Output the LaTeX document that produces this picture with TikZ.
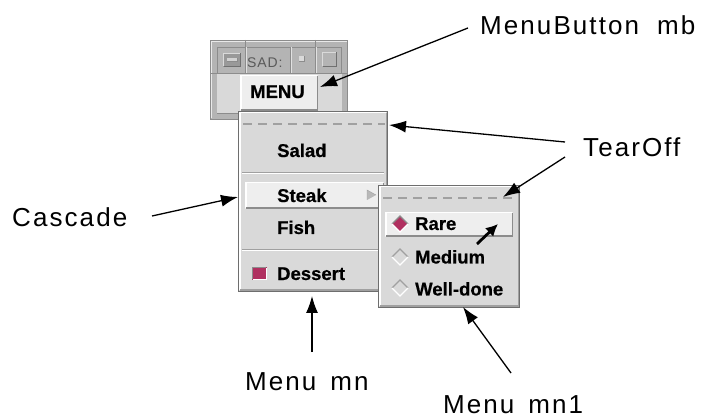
\documentclass[tikz,border=0pt]{standalone}
\usepackage{fontspec}
\setmainfont{Liberation Sans}
\newfontfamily\lblfont[LetterSpace=8]{Liberation Sans}
\newfontfamily\ttlfont[LetterSpace=6]{Liberation Sans}
\newfontfamily\itemfont[FakeBold=0.5]{Liberation Sans Bold}
\usetikzlibrary{arrows.meta}
\definecolor{tkbg}{HTML}{D9D9D9}
\definecolor{tklight}{HTML}{EEEEEE}
\definecolor{tkdark}{HTML}{8C8C8C}
\definecolor{tkedge}{HTML}{6E6E6E}
\definecolor{tkframe}{HTML}{B4B4B4}
\definecolor{tksel}{HTML}{B03060}
\definecolor{tkdash}{HTML}{A0A0A0}
\newcommand\tkraised[5]{%
  \fill[#5] (#1,#2) rectangle (#3,#4);
  \draw[white,line width=1.5pt] ({#1+0.75},{#4-0.75}) -- ({#1+0.75},{#2+0.75}) -- ({#3-0.75},{#2+0.75});
  \draw[tkdark,line width=1.5pt] ({#1+0.75},{#4-0.75}) -- ({#3-0.75},{#4-0.75}) -- ({#3-0.75},{#2+0.75});
}
\newcommand\tkmenubox[4]{%
  \fill[tkbg] (#1,#2) rectangle (#3,#4);
  \draw[tkedge] ({#1+0.5},{#2+0.5}) rectangle ({#3-0.5},{#4-0.5});
  \draw[white,line width=1.5pt] ({#1+1.75},{#4-1.75}) -- ({#1+1.75},{#2+1.75}) -- ({#3-1.75},{#2+1.75});
  \draw[tkdash,line width=1.5pt] ({#1+1.75},{#4-1.75}) -- ({#3-1.75},{#4-1.75}) -- ({#3-1.75},{#2+1.75});
}
\begin{document}
\begin{tikzpicture}[x=1pt,y=-1pt,
  lbl/.style={font=\lblfont\fontsize{26}{30}\selectfont, anchor=base west, inner sep=0pt},
  item/.style={font=\itemfont\fontsize{18.5}{22}\selectfont, anchor=base west, inner sep=0pt},
  conn/.style={line width=1.3pt, -{Latex[length=17pt,width=12pt]}},
  tear/.style={tkdash, line width=1.3pt, dash pattern=on 9pt off 6pt},
  groove/.style={tkdash, line width=1pt},
]
\useasboundingbox (0,0) rectangle (716,417);
\fill[white] (0,0) rectangle (716,417);

% ---------- top-level window of the menubutton ----------
\fill[tkframe] (210,40) rectangle (348,120);
\draw[tkdark] (210.5,40.5) rectangle (347.5,119.5);
\draw[white!70!tkframe] (211.5,118.5) -- (211.5,41.5) -- (346.5,41.5);
% frame ticks
\foreach \xx in {245,315}{
  \draw[tkdark] (\xx,40) -- (\xx,47);
  \draw[tkdark] (\xx,113) -- (\xx,120);}
\draw[tkdark] (210,73.5) -- (217,73.5);
\draw[tkdark] (342,73.5) -- (348,73.5);
% title bar
\draw[tkdark] (217.5,47.5) rectangle (341.5,73.5);
\foreach \xx in {245,290,315}{
  \draw[tkdark] (\xx,47.5) -- (\xx,73.5);
  \draw[white!60!tkframe] (\xx+1,47.5) -- (\xx+1,73.5);}
% iconify button
\fill[tkframe!85!black] (223,53) rectangle (241,67);
\draw[white!50!tkframe] (223.5,66.5) -- (223.5,53.5) -- (240.5,53.5);
\draw[tkdark!80!black] (223.5,66.5) -- (240.5,66.5) -- (240.5,53.5);
\fill[white!40!tkframe] (227,58) rectangle (237,61.5);
\draw[tkdark] (227,61.5) -- (237,61.5) -- (237,58);
\node[font=\ttlfont\fontsize{14}{16}\selectfont, text=black!65, anchor=base west, inner sep=0pt] (ttl) at (247,67.5) {SAD:};
% small buttons
\fill[white!50!tkframe] (299,56) rectangle (304,61);
\draw[tkdark] (299,61) -- (304,61) -- (304,56);
\draw[white!50!tkframe,line width=1.2pt] (322.5,66.5) -- (322.5,52.5) -- (336.5,52.5);
\draw[tkdark!80!black,line width=1.2pt] (322.5,66.5) -- (336.5,66.5) -- (336.5,52.5);
% body
\fill[tkbg] (217,74) rectangle (342,113);
\draw[tkdark] (217,113.5) -- (342,113.5);
\tkraised{240}{75}{318}{111}{tklight}
\node[item] (mb) at (250,98) {MENU};

% ---------- menu mn ----------
\tkmenubox{238}{111}{388}{292}
\draw[tear] (243,124) -- (385,124);
\node[item] (salad) at (277,157) {Salad};
\draw[groove] (242,172.5) -- (384,172.5);
\draw[white,line width=1pt] (242,174) -- (384,174);
\tkraised{245}{182}{384}{209}{tklight}
\node[item] (steak) at (277,202) {Steak};
\fill[tkbg!85!black] (367,190) -- (376,195) -- (367,200) -- cycle;
\draw[tkdash] (367,200) -- (367,190) -- (376,195);
\node[item] (fish) at (277,234) {Fish};
\draw[groove] (242,249.5) -- (384,249.5);
\draw[white,line width=1pt] (242,251) -- (384,251);
\fill[tksel] (252,267) rectangle (267,280);
\draw[tkdark,line width=1.3pt] (252.6,279.4) -- (252.6,267.6) -- (266.4,267.6);
\draw[white,line width=1.3pt] (252.6,279.4) -- (266.4,279.4) -- (266.4,267.6);
\node[item] (dessert) at (277,280) {Dessert};

% ---------- submenu mn1 ----------
\tkmenubox{378}{185}{520}{308}
\draw[tear] (383,198) -- (515,198);
\tkraised{385}{212}{513}{237}{tklight}
% rare (selected)
\fill[tksel] (400,216) -- (408,224) -- (400,232) -- (392,224) -- cycle;
\draw[tkdark,line width=1.3pt] (392,224) -- (400,216) -- (408,224);
\draw[white,line width=1.3pt] (392,224) -- (400,232) -- (408,224);
\node[item] (rare) at (415,230) {Rare};
% medium
\draw[tkdash,line width=1.3pt] (392,257) -- (400,249) -- (408,257);
\draw[white,line width=1.3pt] (392,257) -- (400,265) -- (408,257);
\node[item] (medium) at (415,263.5) {Medium};
% well-done
\draw[tkdash,line width=1.3pt] (392,288) -- (400,280) -- (408,288);
\draw[white,line width=1.3pt] (392,288) -- (400,296) -- (408,288);
\node[item] (welldone) at (415,295.5) {Well-done};

% ---------- labels ----------
\node[lbl] (mbl) at (480,35) {MenuButton\hspace{18pt}mb};
\node[lbl] (tol) at (583,157) {TearOff};
\node[lbl] (cas) at (12,227) {Cascade};
\node[lbl] (mnl) at (245,390) {Menu\hspace{14pt}mn};
\node[lbl] (mn1l) at (443,413) {Menu\hspace{14pt}mn1};

% ---------- connectors ----------
\coordinate (mbT) at (468,28);   \coordinate (mbH) at (320,87);
\coordinate (casT) at (152,216); \coordinate (casH) at (238,197);
\coordinate (toT1) at (565,142); \coordinate (toH1) at (389,125);
\coordinate (toT2) at (565,157); \coordinate (toH2) at (503,197);
\coordinate (mnT) at (312,352);  \coordinate (mnH) at (312,296);
\coordinate (mn1T) at (511,373); \coordinate (mn1H) at (463,307);
\coordinate (ptT) at (477,244);  \coordinate (ptH) at (498,224);
\draw[conn] (mbT) -- (mbH);
\draw[conn] (casT) -- (casH);
\draw[conn] (toT1) -- (toH1);
\draw[conn] (toT2) -- (toH2);
\draw[conn] (mnT) -- (mnH);
\draw[conn] (mn1T) -- (mn1H);
\draw[line width=2.8pt, -{Latex[length=12pt,width=12pt]}] (ptT) -- (ptH);
\end{tikzpicture}
\end{document}
